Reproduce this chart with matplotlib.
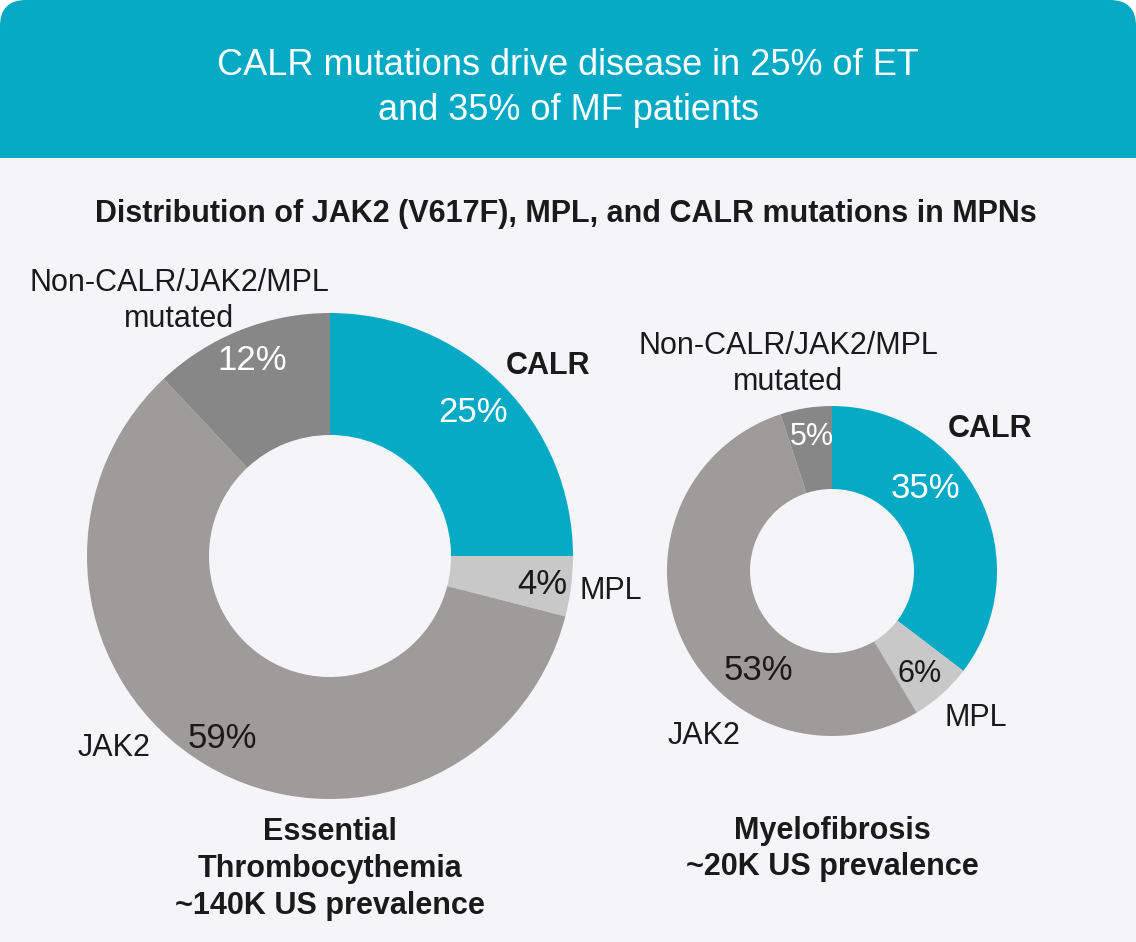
import matplotlib
matplotlib.use("Agg")
import matplotlib.pyplot as plt
from matplotlib.patches import FancyBboxPatch, Rectangle

plt.rcParams['font.family'] = ['Liberation Sans', 'DejaVu Sans']

# ---------------- data ----------------
categories = ["CALR", "MPL", "JAK2", "Non-CALR/JAK2/MPL mutated"]
et_values = [25, 4, 59, 12]
mf_values = [35, 6, 53, 5]
title_text = "CALR mutations drive disease in 25% of ET\nand 35% of MF patients"
subtitle_text = "Distribution of JAK2 (V617F), MPL, and CALR mutations in MPNs"
et_caption = "Essential\nThrombocythemia\n~140K US prevalence"
mf_caption = "Myelofibrosis\n~20K US prevalence"

# ---------------- style ----------------
W, H = 1136, 942
TEAL = "#07aac5"
BG = "#f5f5f7"
colors = [TEAL, "#c8c8c8", "#9d9c9a", "#878787"]
TXT = "#1a1a1a"

fig = plt.figure(figsize=(W / 100, H / 100), dpi=100)
fig.patch.set_facecolor("white")

bg = fig.add_axes([0, 0, 1, 1], zorder=-5)
bg.set_xlim(0, W)
bg.set_ylim(H, 0)
bg.axis("off")
bg.add_patch(FancyBboxPatch((0, 0), W, 220, boxstyle="round,pad=0,rounding_size=26",
                            facecolor=TEAL, edgecolor="none", zorder=1))
bg.add_patch(Rectangle((0, 158), W, H - 158, facecolor=BG, edgecolor="none", zorder=2))


def fx(x):
    return x / W


def fy(y):
    return 1 - y / H


def donut(values, cx, cy, R, r):
    ax = fig.add_axes([(cx - R) / W, (H - cy - R) / H, 2 * R / W, 2 * R / H])
    ax.pie(values, colors=colors, startangle=90, counterclock=False, radius=1,
           wedgeprops=dict(width=(R - r) / R, linewidth=0, edgecolor="none"))
    ax.set_xlim(-1, 1)
    ax.set_ylim(-1, 1)
    ax.set_facecolor("none")
    ax.axis("off")
    return ax


donut(et_values, 330, 556, 243, 121)
donut(mf_values, 832, 571, 165, 82)


def label(x, y, s, size=22, color=TXT, weight="normal", ls=1.3):
    fig.text(fx(x), fy(y), s, fontsize=size, color=color, weight=weight,
             ha="center", va="center", linespacing=ls)


# header
fig.text(fx(568), fy(88), title_text, fontsize=26, color="white", ha="center",
         va="center", linespacing=1.4)
label(566, 214, subtitle_text, size=22, weight="bold")

# ET labels
label(179, 301, "Non-CALR/JAK2/MPL\nmutated", ls=1.25)
label(548, 366, "CALR", weight="bold")
label(473, 412, f"{et_values[0]}%", size=25, color="white")
label(252, 361, f"{et_values[3]}%", size=25, color="white")
label(542, 585, f"{et_values[1]}%", size=25)
fig.text(fx(579), fy(591), "MPL", fontsize=22, color=TXT, ha="left", va="center")
label(222, 738, f"{et_values[2]}%", size=25)
label(114, 748, "JAK2")
label(330, 869, et_caption, size=22, weight="bold", ls=1.3)

# MF labels
label(788, 364, "Non-CALR/JAK2/MPL\nmutated", ls=1.25)
label(990, 429, "CALR", weight="bold")
label(925, 488, f"{mf_values[0]}%", size=25, color="white")
label(812, 437, f"{mf_values[3]}%", size=22, color="white")
label(920, 674, f"{mf_values[1]}%", size=22)
label(976, 718, "MPL")
label(758, 671, f"{mf_values[2]}%", size=25)
label(704, 736, "JAK2")
label(832, 849, mf_caption, size=22, weight="bold", ls=1.3)

fig.savefig("out.png", dpi=100, facecolor=fig.get_facecolor())
